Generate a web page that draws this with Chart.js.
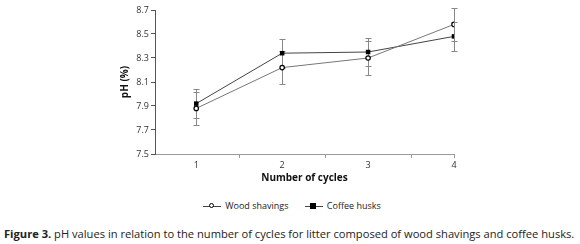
<!DOCTYPE html>
<html>
<head>
<meta charset="utf-8">
<script src="https://cdn.jsdelivr.net/npm/chart.js@4.4.1/dist/chart.umd.min.js"></script>
<style>
  body { margin: 0; background: #fff; font-family: "Open Sans", sans-serif; }
  #wrap { position: relative; width: 580px; height: 190px; }
  #legend { position: absolute; top: 199px; left: 2px; width: 580px; text-align: center; font-size: 9px; color: #222; }
  #legend .item { display: inline-flex; align-items: center; margin: 0 7px; }
  #legend .key { position: relative; width: 18px; height: 10px; margin-right: 4px; }
  #legend .key::before { content: ""; position: absolute; left: 0; right: 0; top: 5px; border-top: 1px solid #444; }
  #legend .mk { position: absolute; left: 6px; top: 2.5px; width: 5px; height: 5px; box-sizing: border-box; }
  #legend .open { border: 1.2px solid #000; border-radius: 50%; background: #fff; }
  #legend .fill { background: #000; left: 5.5px; top: 2px; width: 6px; height: 6px; }
  #caption { position: absolute; top: 226px; left: 4px; font-size: 11.15px; color: #222; white-space: nowrap; }
</style>
</head>
<body>
<div id="wrap"><canvas id="phChart"></canvas></div>
<div id="legend">
  <span class="item"><span class="key"><span class="mk open"></span></span>Wood shavings</span>
  <span class="item"><span class="key"><span class="mk fill"></span></span>Coffee husks</span>
</div>
<div id="caption"><b>Figure 3.</b> pH values in relation to the number of cycles for litter composed of wood shavings and coffee husks.</div>
<script>
document.addEventListener("DOMContentLoaded", function () {
    const ctx = document.getElementById("phChart").getContext("2d");

    // Cycles on the x axis
    const cycles = [1, 2, 3, 4];

    // pH values and standard deviations
    const woodShavings = [7.88, 8.22, 8.30, 8.58];
    const woodShavingsErr = [0.14, 0.14, 0.14, 0.14];
    const coffeeHusks = [7.92, 8.34, 8.35, 8.48];
    const coffeeHusksErr = [0.12, 0.12, 0.12, 0.12];

    // Y axis tick labels
    const yTicks = [7.5, 7.7, 7.9, 8.1, 8.3, 8.5, 8.7];

    // Error bars drawn from the arrays above through the chart's scales
    const errorBars = {
        id: "errorBars",
        beforeDatasetsDraw(chart) {
            const c = chart.ctx;
            const xs = chart.scales.x, ys = chart.scales.y;
            chart.data.datasets.forEach(ds => {
                c.save();
                c.strokeStyle = "#888";
                c.lineWidth = 1;
                ds.data.forEach((p, i) => {
                    const x = Math.round(xs.getPixelForValue(p.x)) + 0.5;
                    const top = Math.round(ys.getPixelForValue(p.y + ds.err[i])) + 0.5;
                    const bot = Math.round(ys.getPixelForValue(p.y - ds.err[i])) + 0.5;
                    c.beginPath();
                    c.moveTo(x, top); c.lineTo(x, bot);
                    c.moveTo(x - 3, top); c.lineTo(x + 3, top);
                    c.moveTo(x - 3, bot); c.lineTo(x + 3, bot);
                    c.stroke();
                });
                c.restore();
            });
        }
    };

    new Chart(ctx, {
        type: "line",
        data: {
            datasets: [{
                label: "Wood shavings",
                data: cycles.map((x, i) => ({ x: x, y: woodShavings[i] })),
                err: woodShavingsErr,
                borderColor: "#777",
                borderWidth: 1,
                pointStyle: "circle",
                pointRadius: 2.2,
                pointBackgroundColor: "#fff",
                pointBorderColor: "#000",
                pointBorderWidth: 1.2
            }, {
                label: "Coffee husks",
                data: cycles.map((x, i) => ({ x: x, y: coffeeHusks[i] })),
                err: coffeeHusksErr,
                borderColor: "#444",
                borderWidth: 1,
                pointStyle: "rect",
                pointRadius: 3.2,
                pointBackgroundColor: "#000",
                pointBorderColor: "#000",
                pointBorderWidth: 0
            }]
        },
        options: {
            responsive: true,
            maintainAspectRatio: false,
            animation: false,
            layout: { padding: { left: 119, right: 126, top: 10, bottom: 6 } },
            plugins: { legend: { display: false }, tooltip: { enabled: false } },
            scales: {
                x: {
                    type: "linear",
                    min: 0.52,
                    max: 4,
                    afterBuildTicks: (scale) => {
                        scale.ticks = [1, 1.5, 2, 2.5, 3, 3.5, 4].map(v => ({ value: v }));
                    },
                    afterFit: (scale) => { scale.height = 30; },
                    ticks: {
                        autoSkip: false,
                        maxRotation: 0,
                        padding: 2,
                        color: "#333",
                        font: { family: "Open Sans", size: 9 },
                        callback: (value) => Number.isInteger(value) ? value : ""
                    },
                    grid: {
                        drawOnChartArea: false,
                        tickLength: 4,
                        tickColor: (c) => (c.tick && Number.isInteger(c.tick.value) && c.tick.value !== 4) ? "rgba(0,0,0,0)" : "#999"
                    },
                    border: { color: "#999", width: 1 },
                    title: {
                        display: true,
                        text: "Number of cycles",
                        color: "#111",
                        font: { family: "Open Sans", size: 10, weight: "bold" },
                        padding: { top: 0, bottom: 0 }
                    }
                },
                y: {
                    min: 7.5,
                    max: 8.7,
                    afterBuildTicks: (scale) => {
                        scale.ticks = yTicks.map(v => ({ value: v }));
                    },
                    afterFit: (scale) => { scale.width = 36; },
                    ticks: {
                        padding: 2,
                        color: "#333",
                        font: { family: "Open Sans", size: 9 },
                        callback: (value) => value.toFixed(1)
                    },
                    grid: { drawOnChartArea: false, tickLength: 4, tickColor: "#555" },
                    border: { color: "#555", width: 1 },
                    title: {
                        display: true,
                        text: "pH (%)",
                        color: "#111",
                        font: { family: "Open Sans", size: 10, weight: "bold" },
                        padding: { top: 0, bottom: 0 }
                    }
                }
            }
        },
        plugins: [errorBars]
    });
});
</script>
</body>
</html>
